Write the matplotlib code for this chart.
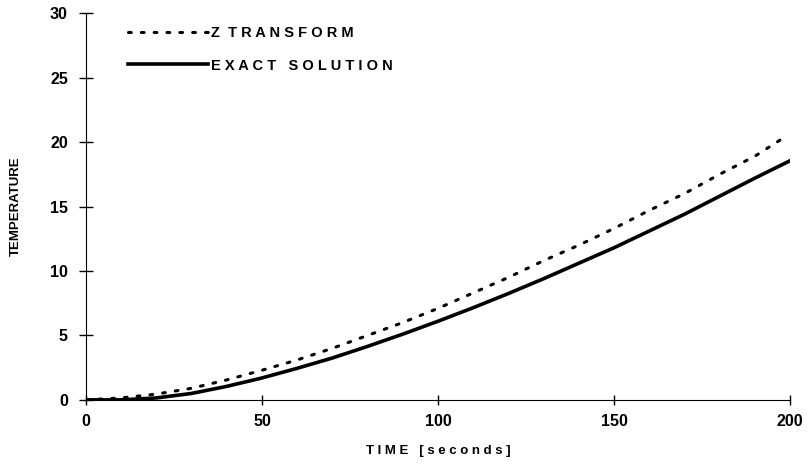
import matplotlib.pyplot as plt

# Valores
tempo_exato = [0, 10, 20, 30, 40, 50, 60, 70, 80, 90, 100, 110, 120, 130, 140,
               150, 160, 170, 180, 190, 200]
temp_exata = [0, 0.0, 0.15, 0.5, 1.05, 1.7, 2.45, 3.25, 4.15, 5.1, 6.1, 7.15,
              8.25, 9.4, 10.6, 11.8, 13.1, 14.4, 15.8, 17.2, 18.55]

tempo_z = [0, 10, 20, 30, 40, 50, 60, 70, 80, 90, 100, 110, 120, 130, 140,
           150, 160, 170, 180, 190, 198]
temp_z = [0, 0.15, 0.45, 0.9, 1.55, 2.3, 3.1, 4.0, 5.0, 6.0, 7.1, 8.3, 9.5,
          10.8, 12.0, 13.3, 14.7, 16.0, 17.5, 18.9, 20.3]

x_ticks = [0, 50, 100, 150, 200]
y_ticks = [0, 5, 10, 15, 20, 25, 30]

plt.rcParams['font.family'] = ['Liberation Sans', 'DejaVu Sans']
plt.rcParams['font.weight'] = 'bold'

fig = plt.figure(figsize=(8.08, 4.71), dpi=100)
ax = fig.add_axes([0.1064, 0.151, 0.8713, 0.821])

ax.plot(tempo_z, temp_z, color='black', linewidth=2.2,
        linestyle=(0, (0.9, 3.3)), dash_capstyle='round',
        label='Z  T R A N S F O R M')
ax.plot(tempo_exato, temp_exata, color='black', linewidth=2.6,
        label='E X A C T   S O L U T I O N')

ax.set_xlim(0, 200)
ax.set_ylim(0, 30)
ax.set_xticks(x_ticks)
ax.set_yticks(y_ticks)
ax.spines['top'].set_visible(False)
ax.spines['right'].set_visible(False)
ax.tick_params(axis='y', direction='inout', length=10, width=1, labelsize=11.5, pad=8)
ax.tick_params(axis='x', direction='inout', length=7, width=1, labelsize=11.5, pad=7)
for lbl in ax.get_xticklabels() + ax.get_yticklabels():
    lbl.set_fontweight('bold')

ax.set_xlabel('T I M E   [ s e c o n d s ]', fontsize=9.5, fontweight='bold', labelpad=11)
ax.set_ylabel('TEMPERATURE', fontsize=9.5, fontweight='bold', labelpad=20)

ax.legend(loc='upper left', bbox_to_anchor=(0.06, 0.966), frameon=False,
          borderpad=0, borderaxespad=0,
          handlelength=5.5, handletextpad=0.15, labelspacing=1.25,
          prop={'size': 10.5, 'weight': 'bold'})

fig.savefig('out.png', dpi=100)
